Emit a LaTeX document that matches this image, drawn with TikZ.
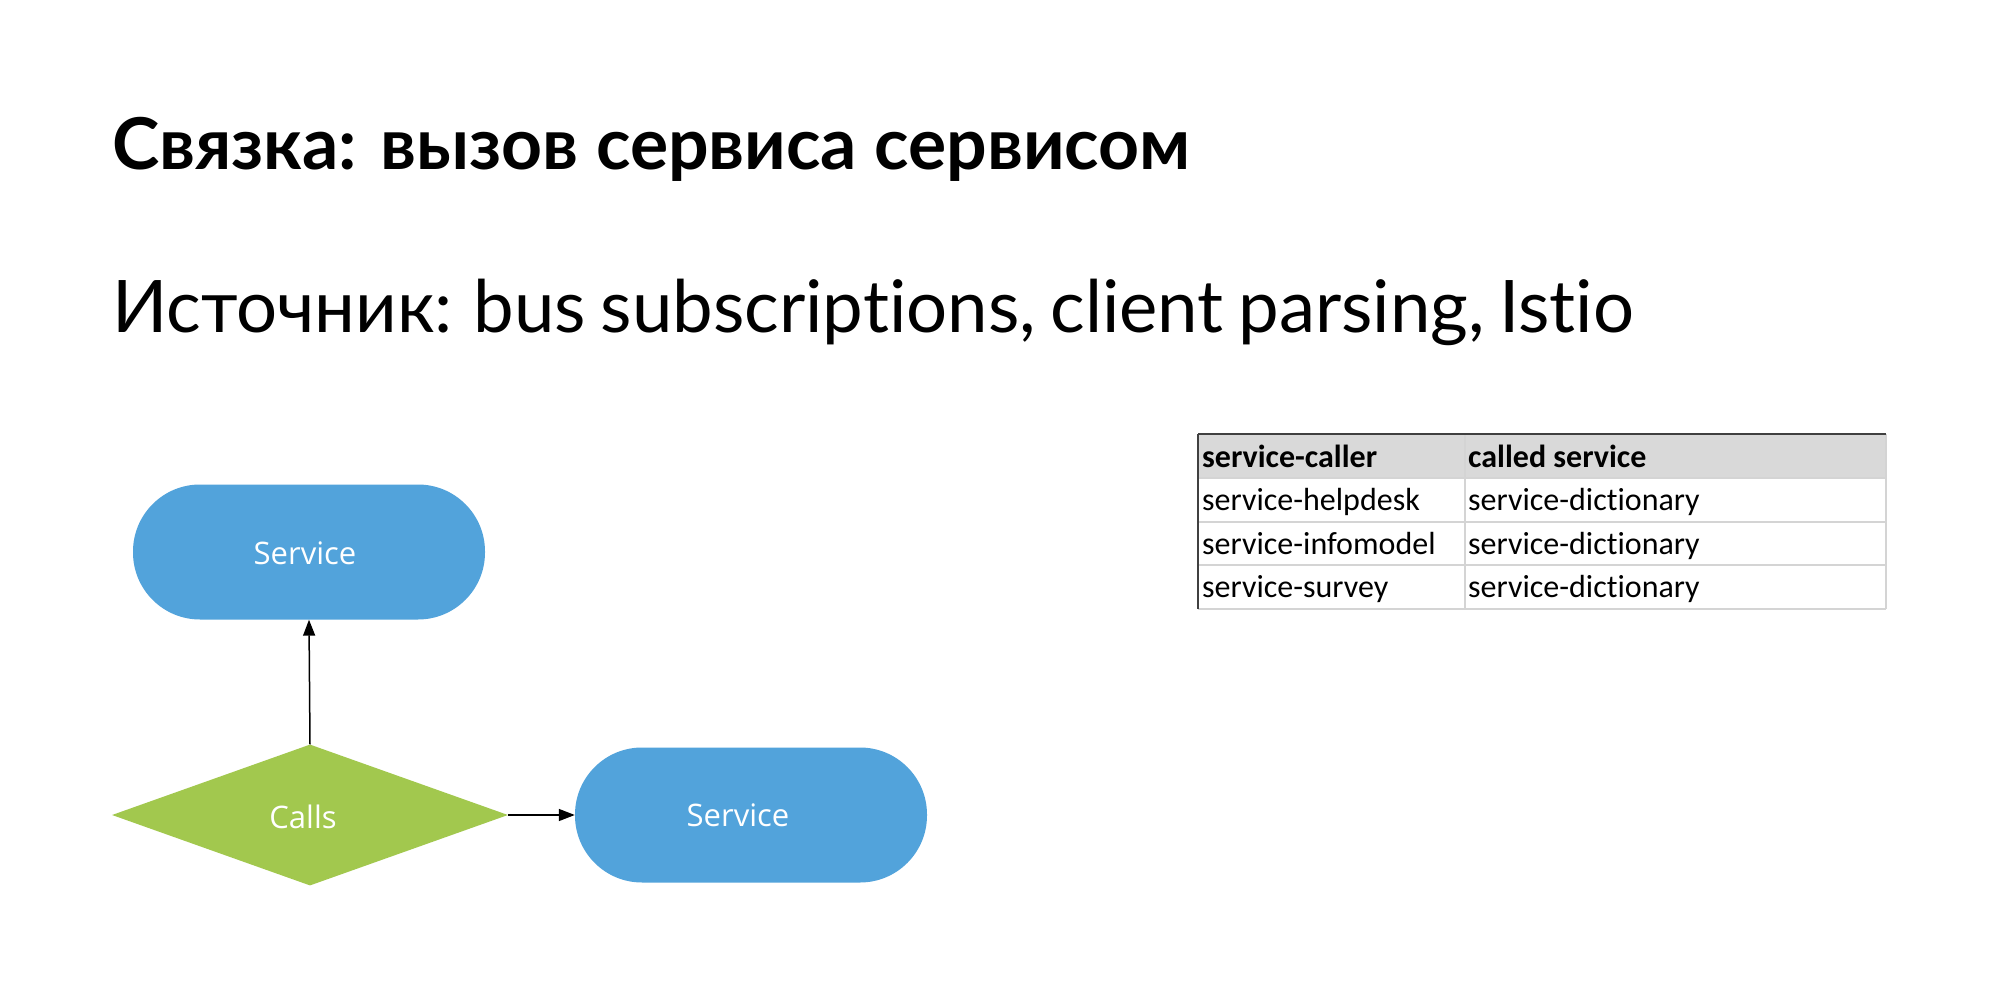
\documentclass[tikz,border=0pt]{standalone}
\usepackage{fontspec}
\setmainfont{Lato}[Ligatures=NoCommon]
\newfontfamily\shapefont{Open Sans}
\newfontfamily\tablefont{Carlito}[Ligatures=NoCommon]
\usetikzlibrary{shapes.geometric,arrows.meta}
\definecolor{svcblue}{RGB}{82,163,219}
\definecolor{callgreen}{RGB}{162,200,78}
\definecolor{hdrgrey}{RGB}{217,217,217}
\definecolor{gridgrey}{RGB}{212,212,212}
\tikzset{
  svc/.style={draw=none, fill=svcblue, rectangle, rounded corners=67pt, minimum width=352pt, minimum height=135pt, inner sep=0pt},
  callnode/.style={draw=none, fill=callgreen, diamond, minimum width=396pt, minimum height=141pt, inner sep=0pt},
  shapetext/.style={text=white, font=\shapefont\fontsize{31}{36}\selectfont, inner sep=0pt},
  conn/.style={draw=black, line width=1.5pt, -{Triangle[length=16pt,width=12pt]}},
  cell/.style={anchor=base west, inner sep=0pt, font=\tablefont\fontsize{32}{36}\selectfont},
  hcell/.style={cell, font=\tablefont\bfseries\fontsize{32}{36}\selectfont},
}
\begin{document}
\begin{tikzpicture}[x=1pt,y=-1pt]
\useasboundingbox (0,0) rectangle (2000,1000);
\fill[white] (0,0) rectangle (2000,1000);
% titles
\node[anchor=base west, inner sep=0pt, font=\bfseries\fontsize{71.5}{80}\selectfont] (title) at (112,170) {Связка: вызов сервиса сервисом};
\node[anchor=base west, inner sep=0pt, font=\fontsize{72.5}{90}\selectfont] (subtitle) at (112,332) {\spaceskip=0.2em\relax Источник: bus subscriptions, client parsing, Istio};
% diagram
\node[svc] (s1) at (309,552) {};
\node[callnode] (calls) at (310,815) {};
\node[svc] (s2) at (751,815) {};
\node[shapetext] (s1t) at ([xshift=-4pt,yshift=-1pt]s1.center) {Service};
\node[shapetext] (callst) at ([xshift=-7pt,yshift=-2pt]calls.center) {Calls};
\node[shapetext] (s2t) at ([xshift=-13pt]s2.center) {Service};
\draw[conn] (calls.north) -- (s1.south);
\draw[conn] (calls.east) -- (s2.west);
% table
\fill[hdrgrey] (1198,434) rectangle (1886,478);
\draw[gridgrey, line width=1.2pt] (1198,478) -- (1886,478);
\draw[gridgrey, line width=1.2pt] (1198,522) -- (1886,522);
\draw[gridgrey, line width=1.2pt] (1198,565) -- (1886,565);
\draw[gridgrey, line width=1.2pt] (1198,609) -- (1886,609);
\draw[gridgrey, line width=1.2pt] (1465,434) -- (1465,609);
\draw[gridgrey, line width=1.2pt] (1886,434) -- (1886,609);
\draw[black!75, line width=2pt] (1198,434) -- (1886,434);
\draw[black!75, line width=1.5pt] (1198,434) -- (1198,609);
\node[hcell] (h1) at (1202,467) {service-caller};
\node[hcell] (h2) at (1468,467) {called service};
\node[cell] (r1a) at (1202,510) {service-helpdesk};
\node[cell] (r1b) at (1468,510) {service-dictionary};
\node[cell] (r2a) at (1202,554) {service-infomodel};
\node[cell] (r2b) at (1468,554) {service-dictionary};
\node[cell] (r3a) at (1202,597) {service-survey};
\node[cell] (r3b) at (1468,597) {service-dictionary};
\end{tikzpicture}
\end{document}
